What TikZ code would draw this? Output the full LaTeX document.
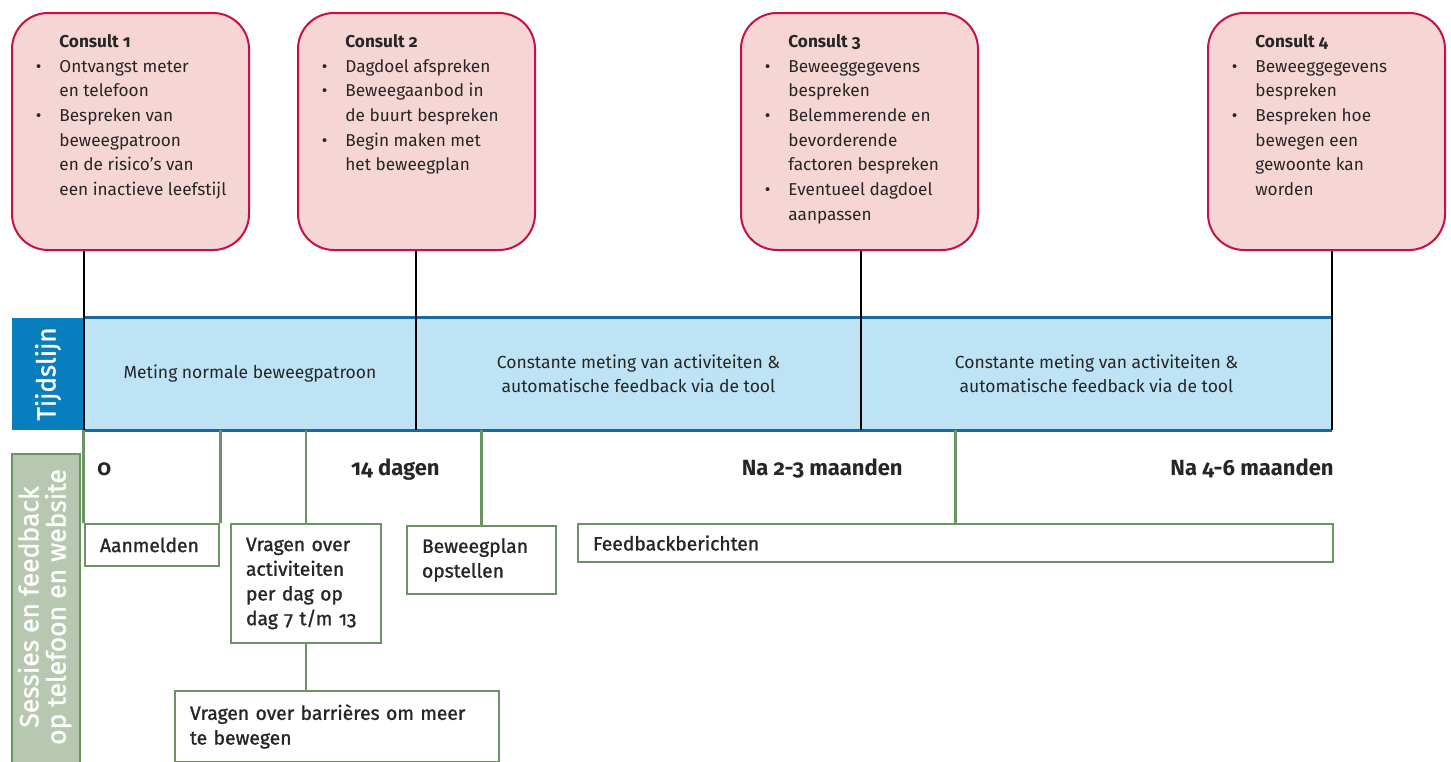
\documentclass[tikz,border=0pt]{standalone}
\usepackage{fontspec}
\setmainfont{Fira Sans}[Numbers=OldStyle]
\newfontfamily\medfont{Fira Sans}[Numbers=OldStyle,FakeBold=1.2]
\usetikzlibrary{positioning}

\definecolor{consultfill}{RGB}{245,214,212}
\definecolor{consultline}{RGB}{200,16,70}
\definecolor{bandfill}{RGB}{189,227,245}
\definecolor{bandline}{RGB}{21,107,160}
\definecolor{tijdfill}{RGB}{8,126,191}
\definecolor{sessiefill}{RGB}{184,199,176}
\definecolor{groen}{RGB}{106,148,97}
\definecolor{tekst}{RGB}{38,38,38}

\newcommand{\bul}{\llap{\textbullet\hspace{18pt}}}

\begin{document}
\begin{tikzpicture}[x=1pt,y=-1pt,thick,
  consult/.style={draw=consultline,line width=2pt,fill=consultfill,rounded corners=36pt,minimum width=237pt,minimum height=237pt,inner sep=0pt},
  consult text/.style={anchor=north west,align=left,inner sep=0pt,text=tekst,font=\fontsize{17.2}{24.7}\selectfont},
  band/.style={fill=bandfill,minimum height=112pt,inner sep=0pt,align=center,text=tekst,font=\fontsize{17.5}{24}\selectfont},
  side/.style={inner sep=0pt,align=center,text=white,font=\medfont},
  time/.style={inner sep=0pt,text=tekst,font=\fontsize{22}{24}\selectfont\bfseries},
  step box/.style={draw=groen,line width=2.6pt,fill=white,inner xsep=15pt,inner ysep=0pt,align=left,text=tekst,font=\fontsize{19.3}{24.7}\selectfont\medfont},
  black line/.style={draw=black,line width=2pt},
  green line/.style={draw=groen,line width=2.6pt}]

  \useasboundingbox (0,0) rectangle (1451,761);

  % consults
  \node[consult] (c1) at (130.5,131.5) {};
  \node[consult] (c2) at (416.5,131.5) {};
  \node[consult] (c3) at (859.5,131.5) {};
  \node[consult] (c4) at (1326.5,131.5) {};

  \node[consult text,below right=22pt and 48pt of c1.north west] (t1) {\textbf{Consult 1}\\
    \bul Ontvangst meter\\ en telefoon\\
    \bul Bespreken van\\ beweegpatroon\\ en de risico's van\\ een inactieve leefstijl};
  \node[consult text,below right=22pt and 48pt of c2.north west] (t2) {\textbf{Consult 2}\\
    \bul Dagdoel afspreken\\
    \bul Beweegaanbod in\\ de buurt bespreken\\
    \bul Begin maken met\\ het beweegplan};
  \node[consult text,below right=22pt and 48pt of c3.north west] (t3) {\textbf{Consult 3}\\
    \bul Beweeggegevens\\ bespreken\\
    \bul Belemmerende en\\ bevorderende\\ factoren bespreken\\
    \bul Eventueel dagdoel\\ aanpassen};
  \node[consult text,below right=22pt and 48pt of c4.north west] (t4) {\textbf{Consult 4}\\
    \bul Beweeggegevens\\ bespreken\\
    \bul Bespreken hoe\\ bewegen een\\ gewoonte kan\\ worden};

  % tijdslijn
  \node[band,minimum width=332pt] (m1) at (250,374) {Meting normale beweegpatroon};
  \node[band,minimum width=445pt] (m2) at (638.5,374) {Constante meting van activiteiten \&\\ automatische feedback via de tool};
  \node[band,minimum width=471pt] (m3) at (1096.5,374) {Constante meting van activiteiten \&\\ automatische feedback via de tool};
  \node[side,fill=tijdfill,minimum width=72pt,minimum height=112pt,font=\fontsize{26}{28}\selectfont\medfont] (tl) at (48,374) {\rotatebox{90}{Tijdslijn}};
  \draw[draw=bandline,line width=2.5pt] (m1.north west) -- (m3.north east)
    (m1.south west) -- (m3.south east);

  \path[black line]
    (c1.south -| m1.west) edge (m1.south west)
    (c2.south -| m2.west) edge (m2.south west)
    (c3.south -| m3.west) edge (m3.south west)
    (c4.south -| m3.east) edge (m3.south east);

  % sessies
  \node[side,draw=groen,line width=2.6pt,fill=sessiefill,minimum width=68pt,minimum height=321pt] (ss) at (46,614.5) {};
  \node[side,font=\fontsize{26.5}{22}\selectfont\medfont] (st) at (45,607) {\rotatebox{90}{\begin{tabular}{@{}c@{}}Sessies en feedback\\ op telefoon en website\end{tabular}}};

  \node[time,anchor=base west] (d0) at (97,475) {0};
  \node[time,anchor=base east] (d14) at (440,475) {14 dagen};
  \node[time,anchor=base east] (d2) at (903,475) {Na 2-3 maanden};
  \node[time,anchor=base east] (d4) at (1334,475) {Na 4-6 maanden};

  \node[step box,text width=104pt,minimum height=42pt] (g1) at (152,545) {Aanmelden};
  \node[step box,text width=120pt,minimum height=119pt] (g2) at (306,583.5) {Vragen over\\ activiteiten\\ per dag op\\ dag 7 t/m 13};
  \node[step box,text width=119pt,minimum height=68pt] (g3) at (481.5,560) {Beweegplan\\ opstellen};
  \node[step box,text width=725pt,minimum height=38pt] (g4) at (955.5,543) {Feedbackberichten};
  \node[step box,text width=294pt,minimum height=71pt] (g5) at (337,726.5) {Vragen over barrières om meer\\ te bewegen};

  \path[green line]
    (g1.north west) edge (g1.north west |- m1.south)
    (g1.north east) edge (g1.north east |- m1.south)
    (g2.north) edge (g2.north |- m1.south)
    (g2.south) edge (g2.south |- g5.north)
    (g3.north) edge (g3.north |- m2.south)
    (g4.north) edge (g4.north |- m3.south);
\end{tikzpicture}
\end{document}
